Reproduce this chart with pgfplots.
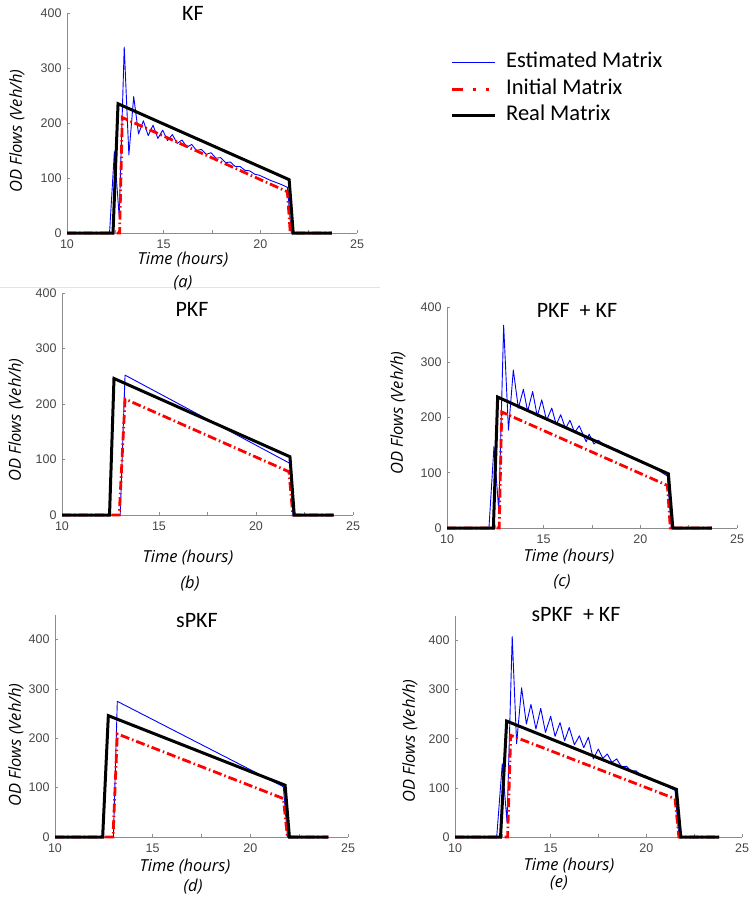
\documentclass[border=0pt]{standalone}
\usepackage{fontspec}
\setmainfont{Carlito}
\newfontfamily\tickfont{Liberation Sans}
\newfontfamily\labfont{Open Sans}
\usepackage{pgfplots}
\pgfplotsset{compat=1.18}

\definecolor{axgray}{RGB}{140,140,140}
\definecolor{tkgray}{RGB}{70,70,70}
\definecolor{estblue}{RGB}{0,0,255}
\definecolor{initred}{RGB}{255,0,0}

\pgfplotsset{
  odplot/.style={
    scale only axis, anchor=south west,
    xmin=10, xmax=25, ymin=0, ymax=400,
    axis x line*=bottom, axis y line*=left,
    axis line style={axgray, line width=0.7pt},
    xtick={10,15,20,25}, minor xtick={12.5,17.5,22.5},
    ytick={0,100,200,300,400},
    tick align=inside, major tick length=3pt, minor tick length=3pt,
    tick style={axgray, line width=0.7pt},
    tick label style={font=\tickfont\fontsize{12.5}{12.5}\selectfont, text=tkgray},
    xticklabel style={yshift=-3pt},
    yticklabel style={xshift=-2pt},
    /pgf/number format/assume math mode=true,
    clip=false,
  },
  est/.style={estblue, line width=0.9pt, line join=round},
  init/.style={initred, line width=2.8pt, dash pattern=on 9pt off 3pt on 1.5pt off 3pt},
  real/.style={black, line width=3pt, line join=miter},
}
\newcommand{\ttl}{\fontsize{22}{22}\selectfont}
\newcommand{\lab}{\labfont\itshape\fontsize{16.5}{16.5}\selectfont}

\begin{document}
\begin{tikzpicture}
\useasboundingbox (0pt,0pt) rectangle (752pt,-899pt);
\draw[gray!22, line width=0.6pt] (0pt,-287pt) -- (380pt,-287pt);

% (a) KF
\begin{axis}[odplot, at={(67pt,-233pt)}, width=290pt, height=220pt,
  legend style={at={(1.3207,0.82)}, anchor=north west, draw=none, fill=none,
    font=\fontsize{22.5}{22.5}\selectfont, inner sep=0pt, row sep=6.5pt, column sep=9pt,
    nodes={inner sep=1pt, text height=14pt, text depth=4pt}},
  legend cell align=left,
  legend image code/.code={\draw[#1] (0pt,0pt) -- (43pt,0pt);}]
\addplot[est] coordinates {(10,0)(12.2,0)(12.45,148)(12.7,30)(12.96,338)(13.2,142)(13.45,248)(13.7,180)(13.95,204)(14.2,177)(14.45,196)(14.7,172)(14.95,187)(15.2,168)(15.45,179)(15.7,163)(15.95,169)(16.2,156)(16.45,161)(16.7,150)(16.95,152)(17.2,143)(17.45,146)(17.7,136)(17.95,137)(18.2,128)(18.45,129)(18.7,121)(18.95,121)(19.2,114)(19.45,113)(19.7,107)(19.95,105)(20.2,101)(20.5,96)(20.8,92)(21.1,88)(21.4,83)(21.6,0)(23.7,0)};
\addlegendentry{Estimated Matrix}
\addplot[init, legend image code/.code={\draw[initred, line width=2.8pt, dash pattern=on 11pt off 10pt on 3pt off 10pt on 3pt off 20pt] (0pt,0pt) -- (43pt,0pt);}] coordinates {(10,0)(12.72,0)(12.86,210)(21.4,75)(21.55,0)(23.7,0)};
\addlegendentry{Initial Matrix}
\addplot[real] coordinates {(10,0)(12.38,0)(12.64,235)(21.49,97)(21.7,0)(23.7,0)};
\addlegendentry{Real Matrix}
\end{axis}
\node[font=\ttl] at (193pt,-13.5pt) {KF};
\node[font=\lab] at (183pt,-260pt) {Time (hours)};
\node[font=\lab] at (183pt,-283pt) {(a)};
\node[font=\lab, rotate=90] at (17pt,-131pt) {OD Flows (Veh/h)};

% (b) PKF
\begin{axis}[odplot, at={(62pt,-515pt)}, width=291pt, height=222pt]
\addplot[est] coordinates {(10,0)(13.0,0)(13.25,252)(21.75,93)(21.9,0)(24,0)};
\addplot[init] coordinates {(10,0)(12.95,0)(13.25,209)(21.7,78)(21.9,0)(24,0)};
\addplot[real] coordinates {(10,0)(12.45,0)(12.68,246)(21.75,105)(21.97,0)(24,0)};
\end{axis}
\node[font=\ttl] at (192pt,-309pt) {PKF};
\node[font=\lab] at (188pt,-558pt) {Time (hours)};
\node[font=\lab] at (190pt,-584pt) {(b)};
\node[font=\lab, rotate=90] at (16pt,-420pt) {OD Flows (Veh/h)};

% (c) PKF + KF
\begin{axis}[odplot, at={(447pt,-528pt)}, width=290pt, height=221pt]
\addplot[est] coordinates {(10,0)(12.17,0)(12.43,148)(12.68,30)(12.93,367)(13.18,177)(13.43,286)(13.69,217)(13.95,251)(14.17,211)(14.43,247)(14.67,202)(14.9,232)(15.15,195)(15.42,217)(15.65,187)(15.88,205)(16.13,180)(16.36,195)(16.6,173)(16.84,185)(17.2,156)(17.35,170)(17.6,152)(17.83,159)(18.1,150)(18.35,149)(18.6,142)(18.85,141)(19.1,134)(19.35,132)(19.6,127)(19.85,124)(20.1,120)(20.5,113)(21.0,103)(21.4,94)(21.6,0)(23.7,0)};
\addplot[init] coordinates {(10,0)(12.7,0)(12.83,210)(21.4,77)(21.55,0)(23.7,0)};
\addplot[real] coordinates {(10,0)(12.4,0)(12.62,237)(21.45,98)(21.68,0)(23.7,0)};
\end{axis}
\node[font=\ttl] at (577pt,-310pt) {PKF\ \ + KF};
\node[font=\lab] at (569pt,-557pt) {Time (hours)};
\node[font=\lab] at (562pt,-582pt) {(c)};
\node[font=\lab, rotate=90] at (398pt,-413pt) {OD Flows (Veh/h)};

% (d) sPKF
\begin{axis}[odplot, at={(55pt,-837pt)}, width=293pt, height=222pt, ymax=450]
\addplot[est] coordinates {(10,0)(12.99,0)(13.19,275)(21.69,102)(21.9,0)(24,0)};
\addplot[init] coordinates {(10,0)(12.97,0)(13.19,209)(21.69,78)(21.9,0)(24,0)};
\addplot[real] coordinates {(10,0)(12.44,0)(12.73,246)(21.78,105)(22.0,0)(24,0)};
\end{axis}
\node[font=\ttl] at (197pt,-621pt) {sPKF};
\node[font=\lab] at (185pt,-867pt) {Time (hours)};
\node[font=\lab] at (193pt,-887pt) {(d)};
\node[font=\lab, rotate=90] at (16pt,-745pt) {OD Flows (Veh/h)};

% (e) sPKF + KF
\begin{axis}[odplot, at={(455pt,-837pt)}, width=287pt, height=221pt, ymax=450]
\addplot[est] coordinates {(10,0)(12.18,0)(12.47,149)(12.72,30)(12.99,408)(13.22,190)(13.48,304)(13.73,230)(13.97,270)(14.23,220)(14.48,262)(14.73,213)(15.0,246)(15.23,205)(15.49,233)(15.73,196)(15.97,223)(16.24,188)(16.5,206)(16.73,182)(16.97,203)(17.23,159)(17.49,179)(17.73,160)(17.96,169)(18.2,152)(18.45,159)(18.7,143)(18.97,144)(19.2,134)(19.46,135)(19.7,126)(19.93,125)(20.2,118)(20.6,112)(21.0,105)(21.5,95)(21.7,0)(23.8,0)};
\addplot[init] coordinates {(10,0)(12.75,0)(12.91,207)(21.5,78)(21.7,0)(23.8,0)};
\addplot[real] coordinates {(10,0)(12.38,0)(12.7,236)(21.57,97)(21.8,0)(23.8,0)};
\end{axis}
\node[font=\ttl] at (576pt,-615pt) {sPKF\ \ + KF};
\node[font=\lab] at (569pt,-866pt) {Time (hours)};
\node[font=\lab] at (559pt,-883pt) {(e)};
\node[font=\lab, rotate=90] at (410pt,-741pt) {OD Flows (Veh/h)};
\end{tikzpicture}
\end{document}
